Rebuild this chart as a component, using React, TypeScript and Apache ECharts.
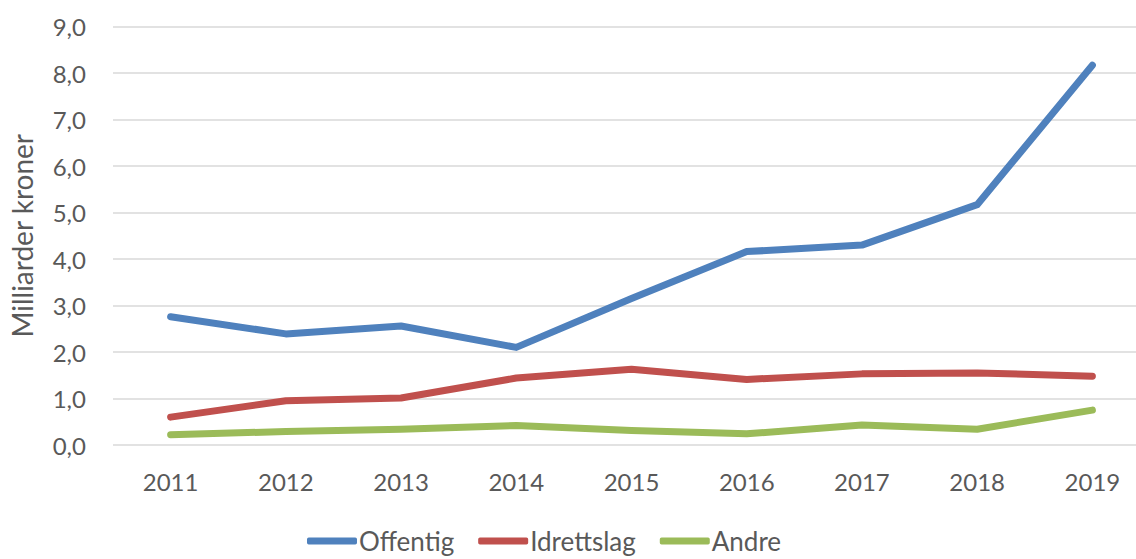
import React, { useEffect, useRef } from "react";
import * as echarts from "echarts";

const years = ["2011", "2012", "2013", "2014", "2015", "2016", "2017", "2018", "2019"];
const offentig = [2.76, 2.39, 2.56, 2.1, 3.15, 4.16, 4.3, 5.17, 8.17];
const idrettslag = [0.6, 0.95, 1.01, 1.44, 1.63, 1.41, 1.53, 1.55, 1.48];
const andre = [0.22, 0.29, 0.34, 0.42, 0.31, 0.24, 0.43, 0.34, 0.75];
const seriesNames = ["Offentig", "Idrettslag", "Andre"];
const colors = ["#4F81BD", "#C0504D", "#9BBB59"];

const FONT = "Lato, 'Open Sans', sans-serif";
const TEXT = "#595959";

export default function App() {
  const ref = useRef<HTMLDivElement>(null);
  useEffect(() => {
    if (!ref.current) return;
    const chart = echarts.init(ref.current, undefined, { renderer: "svg" });
    const data = [offentig, idrettslag, andre];
    chart.setOption({
      animation: false,
      grid: { left: 110, right: 10, top: 26.6, height: 418.4, containLabel: false },
      legend: {
        bottom: 0,
        left: 302,
        itemWidth: 50,
        itemHeight: 7,
        itemGap: 24,
        icon: "roundRect",
        textStyle: { fontFamily: FONT, fontSize: 26, color: TEXT, padding: [0, 0, 0, -3] },
        data: seriesNames,
      },
      xAxis: {
        type: "category",
        data: years,
        boundaryGap: true,
        axisLine: { show: false },
        axisTick: { show: false },
        axisLabel: { fontFamily: FONT, fontSize: 24, color: TEXT, margin: 24 },
      },
      yAxis: {
        type: "value",
        min: 0,
        max: 9,
        interval: 1,
        name: "Milliarder kroner",
        nameLocation: "middle",
        nameGap: 77,
        nameTextStyle: { fontFamily: FONT, fontSize: 28, color: TEXT },
        axisLine: { show: false },
        axisTick: { show: false },
        axisLabel: {
          fontFamily: FONT,
          fontSize: 24,
          color: TEXT,
          margin: 27,
          formatter: (v: number) => v.toFixed(1).replace(".", ","),
        },
        splitLine: { lineStyle: { color: "#D9D9D9", width: 1.5 } },
      },
      series: seriesNames.map((name, i) => ({
        name,
        type: "line",
        data: data[i],
        symbol: "none",
        color: colors[i],
        lineStyle: { width: 7, color: colors[i], cap: "round", join: "round" },
      })),
    });
    return () => chart.dispose();
  }, []);
  return (
    <div
      style={{ position: "fixed", left: 0, top: 0, width: 1136, height: 559, overflow: "hidden", background: "#fff" }}
    >
      <div ref={ref} style={{ width: 1160, height: 559 }} />
    </div>
  );
}
